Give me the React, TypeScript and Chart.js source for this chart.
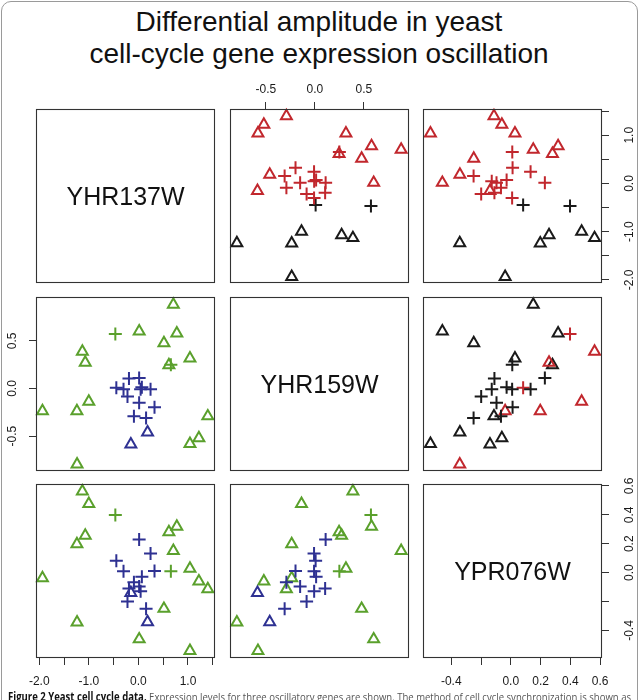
import React, { useEffect, useRef } from 'react';
import { Chart, registerables } from 'chart.js';

Chart.register(...registerables);

// ---------- data ----------
const geneNames = ['YHR137W', 'YHR159W', 'YPR076W'];

// 17 triangle observations followed by 14 cross observations
const yhr137w = [1.40, 1.22, 1.04, 1.04, 0.775, 0.705, 0.615, 0.515, 0.185, 0.016, -0.152, -1.237, -1.24, -1.0, -1.072, -1.13, -1.935,
  -0.445, -0.465, 0.655, 0.015, 0.245, -0.30, 0.325, 0.07, -0.09, 0.015, -0.19, 0.045, -0.22, 0.155];
const yhr159w = [-0.29, -0.52, -0.58, 0.317, 0.578, 0.88, 0.247, 0.477, -0.46, 0.60, -0.585, -0.795, -0.236, -0.136, 0.273, 0.388, -0.236,
  0.008, 0.572, 0.25, 0.11, -0.008, -0.008, -0.197, 0.013, -0.29, -0.15, 0.105, -0.007, -0.084, -0.308];
const ypr076w = [-0.113, -0.06, -0.54, 0.028, 0.318, 0.151, 0.28, -0.249, -0.342, -0.46, -0.14, -0.343, 0.198, 0.476, 0.257, 0.563, -0.038,
  0.083, 0.398, 0.01, 0.229, 0.133, 0.009, 0.012, -0.028, -0.066, -0.096, -0.11, -0.128, -0.199, -0.25];

// T = triangle, P = plus
const method = ['T', 'T', 'T', 'T', 'T', 'T', 'T', 'T', 'T', 'T', 'T', 'T', 'T', 'T', 'T', 'T', 'T',
  'P', 'P', 'P', 'P', 'P', 'P', 'P', 'P', 'P', 'P', 'P', 'P', 'P', 'P'];

// colour classes: upper panels of row 1, upper panel of row 2, lower panels
const colorRow1 = ['R', 'R', 'R', 'R', 'R', 'R', 'R', 'R', 'R', 'R', 'R', 'K', 'K', 'K', 'K', 'K', 'K',
  'K', 'K', 'R', 'R', 'R', 'R', 'R', 'R', 'R', 'R', 'R', 'R', 'R', 'R'];
const colorRow2 = ['K', 'K', 'K', 'K', 'K', 'K', 'K', 'K', 'K', 'K', 'K', 'R', 'R', 'R', 'R', 'R', 'R',
  'R', 'R', 'K', 'K', 'K', 'K', 'K', 'K', 'K', 'K', 'K', 'K', 'K', 'K'];
const colorLower = ['G', 'G', 'G', 'G', 'G', 'G', 'G', 'G', 'B', 'G', 'B', 'G', 'G', 'G', 'G', 'G', 'G',
  'B', 'G', 'G', 'B', 'B', 'B', 'B', 'B', 'B', 'B', 'B', 'B', 'B', 'B'];

const ranges = [[-2.065, 1.545], [-0.865, 0.96], [-0.59, 0.613]];
const tickValues = [
  [-2, -1.5, -1, -0.5, 0, 0.5, 1, 1.5],
  [-0.5, 0, 0.5],
  [-0.4, -0.2, 0, 0.2, 0.4, 0.6],
];
const tickLabels = [
  ['-2.0', '', '-1.0', '', '0.0', '', '1.0', ''],
  ['-0.5', '0.0', '0.5'],
  ['-0.4', '', '0.0', '0.2', '0.4', '0.6'],
];

const titleLines = ['Differential amplitude in yeast', 'cell-cycle gene expression oscillation'];
const captionBold = 'Figure 2 Yeast cell cycle data.';
const captionText = ' Expression levels for three oscillatory genes are shown. The method of cell cycle synchronization is shown as';

// ---------- style / layout ----------
const PALETTE: Record<string, string> = { R: '#C1272D', K: '#1A1A1A', G: '#5AA02C', B: '#2E3192' };
const FONT = '"Liberation Sans", Arial, Helvetica, sans-serif';
const BOX_LEFT = [36, 230, 423];
const BOX_TOP = [109, 297, 484];
const BOX_W = 179;
const BOX_H = 174;
const M = 40;
const AXIS = 36;
const LABEL_PAD: Record<string, number> = { top: 12.5, bottom: 17, left: 5.5, right: 10.5 };

const variables = [yhr137w, yhr159w, ypr076w];

const boxPlugin = {
  id: 'panelBox',
  afterDraw(chart: any) {
    const { ctx, chartArea: a } = chart;
    ctx.save();
    ctx.strokeStyle = '#333';
    ctx.lineWidth = 1.1;
    ctx.strokeRect(a.left + 0.5, a.top + 0.5, a.right - a.left - 1, a.bottom - a.top - 1);
    ctx.restore();
  },
};

function axisConfig(v: number, position: string, show: boolean, vertical: boolean) {
  return {
    type: 'linear',
    min: ranges[v][0],
    max: ranges[v][1],
    position,
    display: show,
    afterBuildTicks: (s: any) => {
      s.ticks = tickValues[v].map((value) => ({ value }));
    },
    afterFit: (s: any) => {
      const size = show ? AXIS : 0;
      if (vertical) s.width = size;
      else s.height = size;
    },
    ticks: {
      autoSkip: false,
      minRotation: vertical ? 90 : 0,
      maxRotation: vertical ? 90 : 0,
      crossAlign: 'center',
      padding: LABEL_PAD[position],
      color: '#1a1a1a',
      font: { family: FONT, size: 12 },
      callback: (value: number) => {
        const idx = tickValues[v].findIndex((t) => Math.abs(t - value) < 1e-9);
        return idx >= 0 ? tickLabels[v][idx] : '';
      },
    },
    grid: {
      drawOnChartArea: false,
      drawTicks: true,
      tickLength: 7,
      tickColor: '#333',
      tickWidth: 1,
      color: '#333',
    },
    border: { display: false },
  };
}

function Panel({ row, col }: { row: number; col: number }) {
  const ref = useRef<HTMLCanvasElement | null>(null);
  useEffect(() => {
    if (!ref.current) return;
    const showTop = row === 0 && col % 2 === 1;
    const showBottom = row === 2 && col % 2 === 0;
    const showLeft = col === 0 && row % 2 === 1;
    const showRight = col === 2 && row % 2 === 0;
    const diag = row === col;
    const colors = row < col ? (row === 0 ? colorRow1 : colorRow2) : colorLower;
    const xs = variables[col];
    const ys = variables[row];
    const data = diag ? [] : xs.map((v, i) => ({ x: v, y: ys[i] }));
    const chart = new Chart(ref.current, {
      type: 'scatter',
      data: {
        datasets: [
          {
            data,
            pointStyle: method.map((m) => (m === 'T' ? 'triangle' : 'cross')),
            pointRadius: method.map((m) => (m === 'T' ? 6.3 : 6.5)),
            pointBorderColor: colors.map((c) => PALETTE[c]),
            pointBackgroundColor: 'rgba(0,0,0,0)',
            pointBorderWidth: 2,
            showLine: false,
            clip: 12,
          } as any,
        ],
      },
      options: {
        responsive: false,
        animation: false,
        events: [],
        layout: {
          padding: {
            left: M - (showLeft ? AXIS : 0),
            right: M - (showRight ? AXIS : 0),
            top: M - (showTop ? AXIS : 0),
            bottom: M - (showBottom ? AXIS : 0),
          },
        },
        plugins: { legend: { display: false }, tooltip: { enabled: false } },
        scales: {
          x: axisConfig(col, showTop ? 'top' : 'bottom', showTop || showBottom, false) as any,
          y: axisConfig(row, showLeft ? 'left' : 'right', showLeft || showRight, true) as any,
        },
      },
      plugins: [boxPlugin],
    });
    return () => chart.destroy();
  }, [row, col]);
  const w = BOX_W + 2 * M;
  const h = BOX_H + 2 * M;
  return (
    <canvas
      ref={ref}
      width={w}
      height={h}
      style={{ position: 'absolute', left: BOX_LEFT[col] - M, top: BOX_TOP[row] - M, width: w, height: h }}
    />
  );
}

export default function App() {
  const panels: { row: number; col: number }[] = [];
  for (let r = 0; r < 3; r++) for (let c = 0; c < 3; c++) panels.push({ row: r, col: c });
  return (
    <div
      style={{
        position: 'absolute',
        left: 0,
        top: 0,
        width: 640,
        height: 700,
        overflow: 'hidden',
        background: '#fff',
        fontFamily: FONT,
      }}
    >
      <div
        style={{
          position: 'absolute',
          left: 1,
          top: 1,
          width: 637,
          height: 760,
          border: '1.5px solid #9a9a9a',
          borderRadius: 10,
          boxSizing: 'border-box',
        }}
      />
      <div
        style={{
          position: 'absolute',
          left: 0,
          top: 6,
          width: 638,
          textAlign: 'center',
          fontSize: 28,
          lineHeight: '31.6px',
          color: '#111',
          fontFamily: FONT,
        }}
      >
        {titleLines.map((t) => (
          <div key={t}>{t}</div>
        ))}
      </div>
      {panels.map((p) => (
        <Panel key={`${p.row}-${p.col}`} row={p.row} col={p.col} />
      ))}
      {geneNames.map((g, i) => (
        <div
          key={g}
          style={{
            position: 'absolute',
            left: BOX_LEFT[i],
            top: BOX_TOP[i],
            width: BOX_W,
            height: BOX_H,
            display: 'flex',
            alignItems: 'center',
            justifyContent: 'center',
            fontSize: 25,
            color: '#111',
            fontFamily: FONT,
          }}
        >
          {g}
        </div>
      ))}
      <svg width={640} height={700} style={{ position: 'absolute', left: 0, top: 0, pointerEvents: 'none' }}>
        <text
          x={8}
          y={701}
          textLength={623}
          lengthAdjust="spacingAndGlyphs"
          fontFamily='"Open Sans", "Noto Sans", sans-serif'
          fontSize={11.5}
          fill="#555"
        >
          <tspan fontWeight="bold" fill="#111">
            {captionBold}
          </tspan>
          {captionText}
        </text>
      </svg>
    </div>
  );
}
